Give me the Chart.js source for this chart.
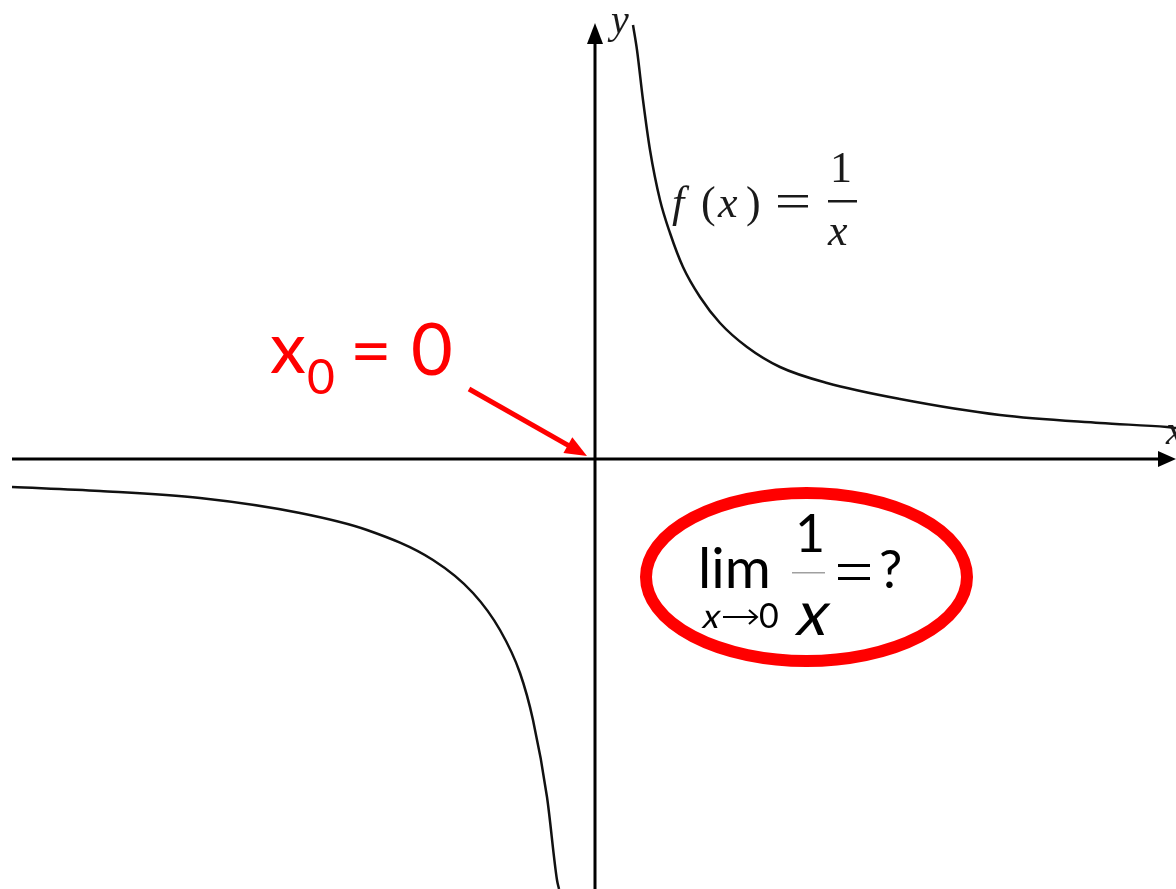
<!DOCTYPE html>
<html>
<head>
<meta charset="utf-8">
<script src="https://cdn.jsdelivr.net/npm/chart.js@4/dist/chart.umd.min.js"></script>
<style>
  html, body { margin: 0; padding: 0; background: #fff; }
  #wrap { width: 1176px; height: 889px; }
</style>
</head>
<body>
<div id="wrap"><canvas id="plot" width="1176" height="889"></canvas></div>
<script>
"use strict";
// values (1 unit = 100px, origin where the axes cross)
const rightX = [0.38, 0.42, 0.48, 0.55, 0.65, 0.75, 0.88, 1.05, 1.25, 1.52, 1.85, 2.32, 3.05, 4.05, 5.05, 5.72, 5.81];
const rightY = [4.34, 4.09, 3.59, 3.09, 2.59, 2.26, 1.92, 1.62, 1.36, 1.12, 0.92, 0.76, 0.60, 0.44, 0.36, 0.32, 0.31];
const leftX = [-5.83, -4.95, -3.95, -2.95, -2.28, -1.62, -1.22, -0.95, -0.75, -0.62, -0.48, -0.38, -0.36];
const leftY = [-0.28, -0.32, -0.39, -0.54, -0.71, -1.01, -1.34, -1.71, -2.14, -2.61, -3.38, -4.21, -4.30];
const xRange = [-5.95, 5.81];
const yRange = [-4.30, 4.59];
const xAxisEnds = [-5.83, 5.65];
const yAxisEnds = [-4.30, 4.16];

const toPoints = (xs, ys) => xs.map((x, i) => ({ x: x, y: ys[i] }));

document.addEventListener("DOMContentLoaded", () => {
    const canvas = document.getElementById("plot");
    const ctx = canvas.getContext("2d");

    // slanted text for the italic x's
    function slanted(c, text, x, y) {
        c.save();
        c.translate(x, y);
        c.transform(1, 0, -0.22, 1, 0, 0);
        c.fillText(text, 0, 0);
        c.restore();
    }

    // arrowheads, labels and the red notes
    const notes = {
        id: "notes",
        afterDatasetsDraw(chart) {
            const c = chart.ctx;
            const sx = chart.scales.x;
            const sy = chart.scales.y;
            const ox = sx.getPixelForValue(0);
            const oy = sy.getPixelForValue(0);
            c.save();

            // axis arrowheads
            c.fillStyle = "#000";
            const xt = sx.getPixelForValue(xRange[1]);
            const xb = sx.getPixelForValue(xAxisEnds[1]);
            c.beginPath();
            c.moveTo(xt, oy);
            c.lineTo(xb - 2, oy - 8);
            c.lineTo(xb - 2, oy + 8);
            c.closePath();
            c.fill();
            const yt = sy.getPixelForValue(rightY[0]) - 2;
            const yb = sy.getPixelForValue(yAxisEnds[1]);
            c.beginPath();
            c.moveTo(ox, yt);
            c.lineTo(ox - 8, yb + 1);
            c.lineTo(ox + 8, yb + 1);
            c.closePath();
            c.fill();

            // axis letters and f(x) = 1/x
            c.fillStyle = "#1a1a1a";
            c.textBaseline = "alphabetic";
            c.font = "italic 40px 'Liberation Serif'";
            c.fillText("y", 611, 33);
            c.fillText("x", 1166, 444);
            c.font = "italic 44px 'Liberation Serif'";
            c.fillText("f", 672, 217);
            c.fillText("x", 718, 217);
            c.fillText("x", 828, 245);
            c.font = "44px 'Liberation Serif'";
            c.fillText("(", 701, 217);
            c.fillText(")", 746, 217);
            c.fillText("1", 830, 182);
            c.fillRect(778, 195, 30, 2.5);
            c.fillRect(778, 205, 30, 2.5);
            c.fillRect(828, 200, 29, 2.5);

            // red x0 = 0 with arrow
            c.fillStyle = "#ff0000";
            c.strokeStyle = "#ff0000";
            c.font = "72px Lato";
            c.fillText("x", 270, 373);
            c.fillText("=", 350, 376);
            c.fillText("0", 411, 375);
            c.font = "48px Lato";
            c.fillText("0", 307, 394);
            c.lineWidth = 5;
            c.lineCap = "butt";
            const tipX = 587, tipY = 456;
            const ang = Math.atan2(tipY - 389, tipX - 469);
            c.beginPath();
            c.moveTo(469, 389);
            c.lineTo(tipX - 16 * Math.cos(ang), tipY - 16 * Math.sin(ang));
            c.stroke();
            c.beginPath();
            c.moveTo(tipX, tipY);
            c.lineTo(tipX - 22 * Math.cos(ang) + 9 * Math.sin(ang), tipY - 22 * Math.sin(ang) - 9 * Math.cos(ang));
            c.lineTo(tipX - 22 * Math.cos(ang) - 9 * Math.sin(ang), tipY - 22 * Math.sin(ang) + 9 * Math.cos(ang));
            c.closePath();
            c.fill();

            // ellipse with the limit
            c.lineWidth = 12;
            c.beginPath();
            c.ellipse(806.5, 577, 160.5, 84, 0, 0, Math.PI * 2);
            c.stroke();

            c.fillStyle = "#000";
            c.strokeStyle = "#000";
            c.font = "56px Lato";
            c.fillText("lim", 698, 588);
            c.font = "52px Lato";
            c.fillText("1", 795, 552);
            c.fillText("?", 879, 588);
            c.font = "62px Lato";
            slanted(c, "x", 794, 635);
            c.font = "34px Lato";
            slanted(c, "x", 701, 628);
            c.fillText("0", 759, 628);
            // the arrow under lim
            c.lineWidth = 2;
            c.beginPath();
            c.moveTo(723, 617);
            c.lineTo(756, 617);
            c.moveTo(749, 610);
            c.lineTo(757, 617);
            c.lineTo(749, 624);
            c.stroke();
            c.fillRect(838, 564, 32, 3);
            c.fillRect(838, 577, 32, 3);
            c.fillStyle = "#a0a0a0";
            c.fillRect(792, 572, 33, 1.5);

            c.restore();
        }
    };

    new Chart(ctx, {
        type: "scatter",
        data: {
            datasets: [
                {
                    label: "x axis",
                    data: toPoints(xAxisEnds, [0, 0]),
                    showLine: true,
                    borderColor: "#000",
                    borderWidth: 3,
                    pointRadius: 0,
                },
                {
                    label: "y axis",
                    data: toPoints([0, 0], yAxisEnds),
                    showLine: true,
                    borderColor: "#000",
                    borderWidth: 3,
                    pointRadius: 0,
                },
                {
                    label: "1/x, x > 0",
                    data: toPoints(rightX, rightY),
                    showLine: true,
                    borderColor: "#111",
                    borderWidth: 2.5,
                    pointRadius: 0,
                    cubicInterpolationMode: "monotone",
                },
                {
                    label: "1/x, x < 0",
                    data: toPoints(leftX, leftY),
                    showLine: true,
                    borderColor: "#111",
                    borderWidth: 2.5,
                    pointRadius: 0,
                    cubicInterpolationMode: "monotone",
                },
            ],
        },
        options: {
            responsive: false,
            animation: false,
            layout: { padding: 0 },
            plugins: {
                legend: { display: false },
                tooltip: { enabled: false },
            },
            scales: {
                x: { type: "linear", display: false, min: xRange[0], max: xRange[1] },
                y: { type: "linear", display: false, min: yRange[0], max: yRange[1] },
            },
        },
        plugins: [notes],
    });
});
</script>
</body>
</html>
